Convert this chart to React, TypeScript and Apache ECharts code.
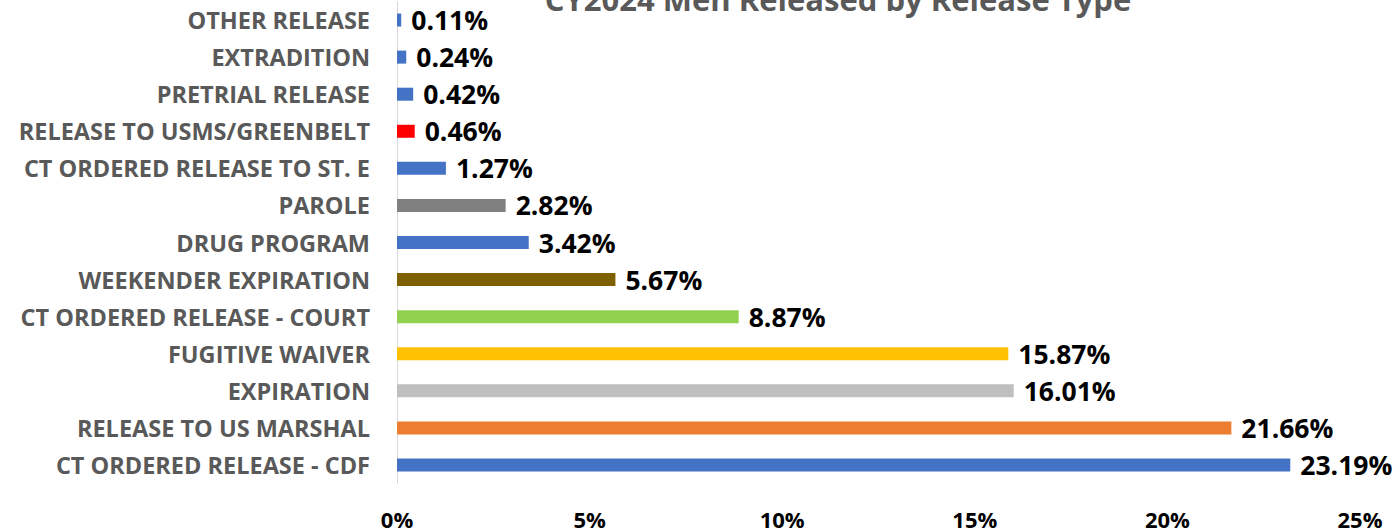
import React, { useEffect, useRef } from "react";
import * as echarts from "echarts";

const categories = [
  "OTHER RELEASE",
  "EXTRADITION",
  "PRETRIAL RELEASE",
  "RELEASE TO USMS/GREENBELT",
  "CT ORDERED RELEASE TO ST. E",
  "PAROLE",
  "DRUG PROGRAM",
  "WEEKENDER EXPIRATION",
  "CT ORDERED RELEASE - COURT",
  "FUGITIVE WAIVER",
  "EXPIRATION",
  "RELEASE TO US MARSHAL",
  "CT ORDERED RELEASE - CDF",
];
const values = [0.11, 0.24, 0.42, 0.46, 1.27, 2.82, 3.42, 5.67, 8.87, 15.87, 16.01, 21.66, 23.19];
const barColors = [
  "#4472C4", "#4472C4", "#4472C4", "#FF0000", "#4472C4", "#808080", "#4472C4",
  "#7F6000", "#92D050", "#FFC000", "#BFBFBF", "#ED7D31", "#4472C4",
];
const titleText = "CY2024 Men Released by Release Type";
const xTicks = [0, 5, 10, 15, 20, 25];

export default function App() {
  const ref = useRef<HTMLDivElement>(null);
  useEffect(() => {
    const chart = echarts.init(ref.current!, null, { renderer: "svg" });
    const font = "'Open Sans', sans-serif";
    chart.setOption({
      animation: false,
      graphic: [
        {
          type: "text",
          x: 838,
          y: -1,
          style: {
            text: titleText,
            fill: "#595959",
            font: `bold 31px ${font}`,
            textAlign: "center",
            textVerticalAlign: "middle",
          },
        },
      ],
      grid: { left: 397, right: 35, top: 1.5, bottom: 48.5, containLabel: false },
      xAxis: {
        type: "value",
        min: xTicks[0],
        max: xTicks[xTicks.length - 1],
        interval: 5,
        splitLine: { show: false },
        axisLine: { show: false },
        axisTick: { show: false },
        axisLabel: {
          formatter: (v: number) => `${v}%`,
          color: "#000",
          fontFamily: font,
          fontWeight: "bold",
          fontSize: 22,
          margin: 24,
        },
      },
      yAxis: {
        type: "category",
        inverse: true,
        data: categories,
        axisLine: { show: true, lineStyle: { color: "#D9D9D9", width: 1 } },
        axisTick: { show: false },
        axisLabel: {
          color: "#595959",
          fontFamily: font,
          fontWeight: "bold",
          fontSize: 23.5,
          margin: 27,
        },
      },
      series: [
        {
          type: "bar",
          barWidth: 13,
          data: values.map((v, i) => ({ value: v, itemStyle: { color: barColors[i] } })),
          label: {
            show: true,
            position: "right",
            distance: 10,
            formatter: (p: any) => `${p.value.toFixed(2)}%`,
            color: "#000",
            fontFamily: font,
            fontWeight: "bold",
            fontSize: 26.5,
          },
        },
      ],
    });
    return () => chart.dispose();
  }, []);
  return (
    <div
      ref={ref}
      style={{ position: "fixed", left: 0, top: 0, width: 1395, height: 532, background: "#fff" }}
    />
  );
}
